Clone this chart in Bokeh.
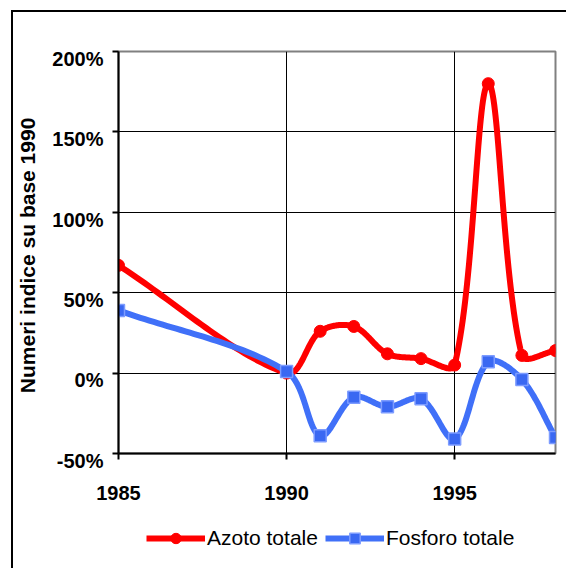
import numpy as np
from bokeh.plotting import figure
from bokeh.layouts import column
from bokeh.models import FixedTicker, Range1d, Legend, LegendItem
from bokeh.embed import file_html
from bokeh.resources import INLINE

# ---- data ----
years = [1985, 1990, 1991, 1992, 1993, 1994, 1995, 1996, 1997, 1998]
azoto = [67, 0, 26, 29, 12, 9, 5, 180, 11, 14]          # Azoto totale, % vs 1990
fosforo = [39, 1, -39, -15, -21, -16, -41, 7, -4, -40]  # Fosforo totale, % vs 1990
x_ticks = [1985, 1990, 1995]
y_ticks = [-50, 0, 50, 100, 150, 200]
y_tick_labels = ["-50%", "0%", "50%", "100%", "150%", "200%"]
series_names = ["Azoto totale", "Fosforo totale"]
y_title = "Numeri indice  su base 1990"

X_RANGE = (1985, 1998)
Y_RANGE = (-50, 200)
FRAME_W, FRAME_H = 437, 402


def smooth(xs, ys, n=40):
    """Smoothed line through the data points (cubic Bezier, handles scaled
    by the neighbouring segment lengths measured on screen)."""
    sx = FRAME_W / (X_RANGE[1] - X_RANGE[0])
    sy = FRAME_H / (Y_RANGE[1] - Y_RANGE[0])
    P = np.column_stack([np.asarray(xs, float) * sx, np.asarray(ys, float) * sy])
    m = len(P)
    L = np.hypot(*(P[1:] - P[:-1]).T)  # segment lengths
    out = [P[0]]
    t = np.linspace(0, 1, n)[1:, None]
    for i in range(m - 1):
        p1, p2 = P[i], P[i + 1]
        if i > 0:
            d1 = P[i + 1] - P[i - 1]
            c1 = p1 + d1 * (L[i] / (L[i - 1] + L[i])) / 3.0
        else:
            c1 = p1 + (p2 - p1) / 3.0
        if i + 2 < m:
            d2 = P[i + 2] - P[i]
            c2 = p2 - d2 * (L[i] / (L[i] + L[i + 1])) / 3.0
        else:
            c2 = p2 - (p2 - p1) / 3.0
        seg = (1 - t) ** 3 * p1 + 3 * (1 - t) ** 2 * t * c1 + 3 * (1 - t) * t ** 2 * c2 + t ** 3 * p2
        out.extend(seg)
    arr = np.array(out)
    return arr[:, 0] / sx, arr[:, 1] / sy


FONT = "Liberation Sans"
RED = "#ff0000"
BLUE = "#4070f8"
SQ_FILL = "#3a68f2"
SQ_LINE = "#7d9cff"

# ---------------- main chart ----------------
p = figure(width=553, height=506, output_backend="svg", toolbar_location=None,
           x_range=Range1d(*X_RANGE), y_range=Range1d(*Y_RANGE),
           min_border_left=105, min_border_right=11, min_border_top=39, min_border_bottom=65)

p.background_fill_color = "white"
p.border_fill_color = "white"
p.outline_line_color = "#808080"
p.outline_line_width = 2

p.xgrid.ticker = FixedTicker(ticks=x_ticks)
p.ygrid.ticker = FixedTicker(ticks=y_ticks)
for g in (p.xgrid, p.ygrid):
    g.grid_line_color = "black"
    g.grid_line_width = 1

p.xaxis.ticker = FixedTicker(ticks=x_ticks)
p.yaxis.ticker = FixedTicker(ticks=y_ticks)
# leading newline pushes each percentage label a little below its gridline, as in the original
p.yaxis.major_label_overrides = {v: "\n" + s for v, s in zip(y_ticks, y_tick_labels)}
p.xaxis.major_label_overrides = {v: str(v) for v in x_ticks}
for ax in (p.xaxis, p.yaxis):
    ax.axis_line_color = "black"
    ax.axis_line_width = 2
    ax.major_tick_line_color = "black"
    ax.major_tick_line_width = 2
    ax.major_tick_out = 6
    ax.major_tick_in = 0
    ax.minor_tick_line_color = None
    ax.major_label_text_font = FONT
    ax.major_label_text_font_style = "bold"
    ax.major_label_text_font_size = "20px"
    ax.major_label_text_color = "black"
p.yaxis.major_label_text_line_height = 0.67
p.xaxis.major_label_standoff = 26
p.yaxis.major_label_standoff = 9
p.yaxis.axis_label = y_title
p.yaxis.axis_label_text_font = FONT
p.yaxis.axis_label_text_font_style = "bold"
p.yaxis.axis_label_text_font_size = "21px"
p.yaxis.axis_label_text_color = "black"
p.yaxis.axis_label_standoff = 10

ax_s, ay_s = smooth(years, azoto)
fx_s, fy_s = smooth(years, fosforo)

p.line(ax_s, ay_s, line_color=RED, line_width=6, line_join="round", line_cap="round")
p.scatter(years, azoto, marker="circle", size=12, fill_color=RED, line_color=RED)
p.line(fx_s, fy_s, line_color=BLUE, line_width=6, line_join="round", line_cap="round")
p.scatter(years, fosforo, marker="square", size=12, fill_color=SQ_FILL,
          line_color=SQ_LINE, line_width=1.5)

# ---------------- legend strip (same series, outside its view range) ----------------
lg = figure(width=553, height=50, output_backend="svg", toolbar_location=None,
            x_range=Range1d(0, 1), y_range=Range1d(0, 1),
            x_axis_location=None, y_axis_location=None, min_border=0)
lg.grid.visible = False
lg.outline_line_color = None
lg.background_fill_color = "white"
lg.border_fill_color = "white"

lr_line = lg.line(years, azoto, line_color=RED, line_width=6)
lr_pts = lg.scatter(years, azoto, marker="circle", size=12, fill_color=RED, line_color=RED)
lb_line = lg.line(years, fosforo, line_color=BLUE, line_width=6)
lb_pts = lg.scatter(years, fosforo, marker="square", size=12, fill_color=SQ_FILL,
                    line_color=SQ_LINE, line_width=1.5)

legend = Legend(items=[LegendItem(label=series_names[0], renderers=[lr_line, lr_pts]),
                       LegendItem(label=series_names[1], renderers=[lb_line, lb_pts])],
                orientation="horizontal", location=(28, 17),
                glyph_width=59, glyph_height=26, label_height=24, label_standoff=2,
                spacing=7, padding=0, margin=0,
                border_line_color=None, background_fill_alpha=0,
                label_text_font=FONT, label_text_font_size="21px", label_text_color="black")
lg.add_layout(legend)

page = column(p, lg, spacing=0,
              styles={"margin-left": "11px", "margin-top": "10px",
                      "border-left": "2px solid #000000", "border-top": "2px solid #000000"})

open("out.html", "w").write(file_html(page, INLINE))
